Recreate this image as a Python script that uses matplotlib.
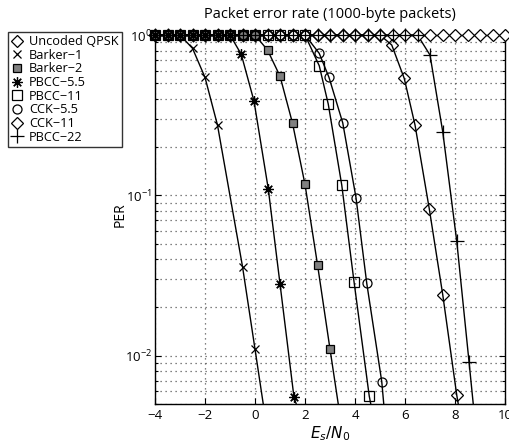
import matplotlib
matplotlib.use("Agg")
import matplotlib.pyplot as plt
from matplotlib.ticker import LogLocator, NullLocator, FixedLocator

plt.rcParams['font.family'] = ['Open Sans', 'DejaVu Sans']
plt.rcParams['mathtext.fontset'] = 'dejavusans'

# ---------------- data ----------------
top_x_full = [-4, -3.5, -3, -2.5, -2, -1.5, -1, -0.5, 0, 0.5, 1, 1.5, 2, 2.5, 3,
              3.5, 4, 4.5, 5, 5.5, 6, 6.5, 7, 7.5, 8, 8.5, 9, 9.5, 10]

uncoded_x = top_x_full
uncoded_y = [1.0] * 29

barker1_x = [-4, -3.5, -3, -2.5, -2, -1.5, -0.5, 0.0]
barker1_y = [1, 1, 1, 0.826, 0.544, 0.274, 0.036, 0.011]
barker1_end = (0.33, 0.005)

barker2_x = [-4, -3.5, -3, -2.5, -2, -1.5, -1, -0.5, 0, 0.5, 1, 1.5, 2, 2.5, 3]
barker2_y = [1, 1, 1, 1, 1, 1, 1, 1, 1, 0.806, 0.554, 0.282, 0.117, 0.037, 0.011]
barker2_end = (3.33, 0.005)

pbcc55_x = [-4, -3.5, -3, -2.5, -2, -1.5, -1, -0.55, -0.04, 0.53, 1.0, 1.56]
pbcc55_y = [1, 1, 1, 1, 1, 1, 1, 0.758, 0.387, 0.110, 0.0281, 0.0055]
pbcc55_end = (1.65, 0.005)

pbcc11_x = [-4, -3.5, -3, -2.5, -2, -1.5, -1, -0.5, 0, 0.5, 1, 1.5, 2,
            2.57, 2.93, 3.47, 3.96, 4.57]
pbcc11_y = [1, 1, 1, 1, 1, 1, 1, 1, 1, 1, 1, 1, 1,
            0.643, 0.371, 0.116, 0.029, 0.0056]
pbcc11_end = (4.63, 0.005)

cck55_x = [-4, -3.5, -3, -2.5, -2, -1.5, -1, -0.5, 0, 0.5, 1, 1.5, 2,
           2.57, 2.96, 3.51, 4.04, 4.47, 5.07]
cck55_y = [1, 1, 1, 1, 1, 1, 1, 1, 1, 1, 1, 1, 1,
           0.768, 0.544, 0.283, 0.0968, 0.0283, 0.0069]
cck55_end = (5.15, 0.005)

cck11_x = [-4, -3.5, -3, -2.5, -2, -1.5, -1, -0.5, 0, 0.5, 1, 1.5, 2, 2.5, 3,
           3.5, 4, 4.5, 5, 5.47, 5.97, 6.4, 6.97, 7.51, 8.07]
cck11_y = [1, 1, 1, 1, 1, 1, 1, 1, 1, 1, 1, 1, 1, 1, 1,
           1, 1, 1, 1, 0.866, 0.536, 0.275, 0.0826, 0.024, 0.00568]
cck11_end = (8.13, 0.005)

pbcc22_x = [-4, -3.5, -3, -2.5, -2, -1.5, -1, -0.5, 0, 0.5, 1, 1.5, 2, 2.5, 3,
            3.5, 4, 4.5, 5, 5.5, 6, 6.5, 7.0, 7.51, 8.07, 8.56]
pbcc22_y = [1, 1, 1, 1, 1, 1, 1, 1, 1, 1, 1, 1, 1, 1, 1,
            1, 1, 1, 1, 1, 1, 1, 0.75, 0.249, 0.0518, 0.0092]
pbcc22_end = (8.73, 0.005)

labels = ['Uncoded QPSK', 'Barker\u22121', 'Barker\u22122', 'PBCC\u22125.5',
          'PBCC\u221211', 'CCK\u22125.5', 'CCK\u221211', 'PBCC\u221222']

# ---------------- figure ----------------
W, H = 509, 444
fig = plt.figure(figsize=(W / 100, H / 100), dpi=100)
ax = fig.add_axes([155 / W, 1 - 404 / H, 350 / W, 369 / H])
ax.set_yscale('log')
ax.set_xlim(-4, 10)
ax.set_ylim(0.005, 1)

lw = 1.0
curves = [
    (barker1_x, barker1_y, barker1_end),
    (barker2_x, barker2_y, barker2_end),
    (pbcc55_x, pbcc55_y, pbcc55_end),
    (pbcc11_x, pbcc11_y, pbcc11_end),
    (cck55_x, cck55_y, cck55_end),
    (cck11_x, cck11_y, cck11_end),
    (pbcc22_x, pbcc22_y, pbcc22_end),
]
for xs, ys, end in curves:
    ax.plot(list(xs) + [end[0]], list(ys) + [end[1]], color='black', lw=lw,
            zorder=2, clip_on=False)

mk = dict(linestyle='none', color='black', markeredgewidth=0.9, clip_on=False, zorder=4)
series = [
    (uncoded_x, uncoded_y, dict(marker='D', ms=6.5, mfc='white')),
    (barker1_x, barker1_y, dict(marker='x', ms=6)),
    (barker2_x, barker2_y, dict(marker='s', ms=6, mfc='0.5')),
    (pbcc55_x, pbcc55_y, dict(marker=(8, 2, 0), ms=7.5)),
    (pbcc11_x, pbcc11_y, dict(marker='s', ms=6.5, mfc='none')),
    (cck55_x, cck55_y, dict(marker='o', ms=6.5, mfc='none')),
    (cck11_x, cck11_y, dict(marker='D', ms=6.5, mfc='none')),
    (pbcc22_x, pbcc22_y, dict(marker='+', ms=10)),
]
handles = []
for (xs, ys, st), lab in zip(series, labels):
    kw = dict(mk)
    kw.update(st)
    h, = ax.plot(xs, ys, label=lab, **kw)
    handles.append(h)

ax.xaxis.set_major_locator(FixedLocator([-4, -2, 0, 2, 4, 6, 8, 10]))
ax.xaxis.set_minor_locator(NullLocator())
ax.yaxis.set_major_locator(LogLocator(base=10, numticks=10))
ax.yaxis.set_minor_locator(LogLocator(base=10, subs=range(2, 10), numticks=20))
ax.grid(True, which='major', axis='x', linestyle=(0, (1, 3)), color='0.35', lw=0.9)
ax.grid(True, which='both', axis='y', linestyle=(0, (1, 3)), color='0.35', lw=0.9)
ax.tick_params(which='both', direction='in', top=True, right=True, labelsize=9.5)
ax.tick_params(axis='y', pad=2)
ax.tick_params(which='major', length=4, width=0.8)
ax.tick_params(which='minor', length=2.5, width=0.8)
for s in ax.spines.values():
    s.set_linewidth(1.0)

ax.set_title('Packet error rate (1000-byte packets)', fontsize=10.5, pad=12)
ax.set_xlabel(r'$E_s/N_0$', fontsize=11, labelpad=2)
ax.set_ylabel('PER', fontsize=10)
ax.yaxis.set_label_coords(-0.077, 0.512)

leg = fig.legend(handles=handles, loc='upper left',
                 bbox_to_anchor=(8 / W, 1 - 32 / H), bbox_transform=fig.transFigure,
                 fontsize=9.2, frameon=True, fancybox=False, borderaxespad=0,
                 handlelength=0.9, handletextpad=0.5, labelspacing=0.05,
                 borderpad=0.25, numpoints=1)
leg.get_frame().set_edgecolor('black')
leg.get_frame().set_linewidth(1.0)

fig.savefig('out.png', dpi=100)
